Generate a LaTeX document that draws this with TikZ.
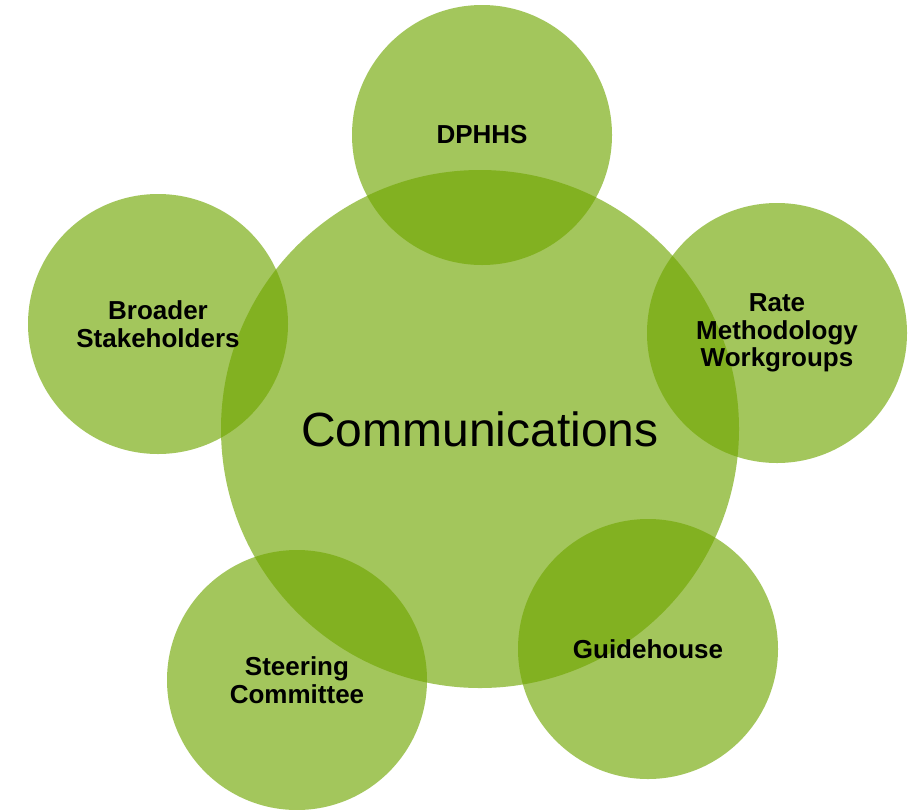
\documentclass[tikz,border=0pt]{standalone}
\usepackage{fontspec}
\setmainfont{Liberation Sans}
\definecolor{leaf}{RGB}{112,166,0}
\begin{document}
\begin{tikzpicture}[x=1pt,y=-1pt,
  bubble/.style={circle, fill=leaf, fill opacity=0.64, text opacity=1,
    inner sep=0pt, outer sep=0pt, minimum size=260pt, align=center,
    text=black, font=\bfseries\fontsize{26}{27.5}\selectfont},
  hub/.style={bubble, minimum size=518pt, font=\fontsize{48}{50}\selectfont}]
\useasboundingbox (0,0) rectangle (920,809);
\fill[white] (0,0) rectangle (920,809);
\node[hub] (comm) at (480,429) {Communications};
\node[bubble] (dphhs) at (482,135) {DPHHS};
\node[bubble] (rate) at (777,333) {Rate\\Methodology\\Workgroups};
\node[bubble] (guide) at (648,649) {Guidehouse};
\node[bubble] (steer) at (297,680) {Steering\\Committee};
\node[bubble] (broad) at (158,324) {Broader\\Stakeholders};
\end{tikzpicture}
\end{document}
